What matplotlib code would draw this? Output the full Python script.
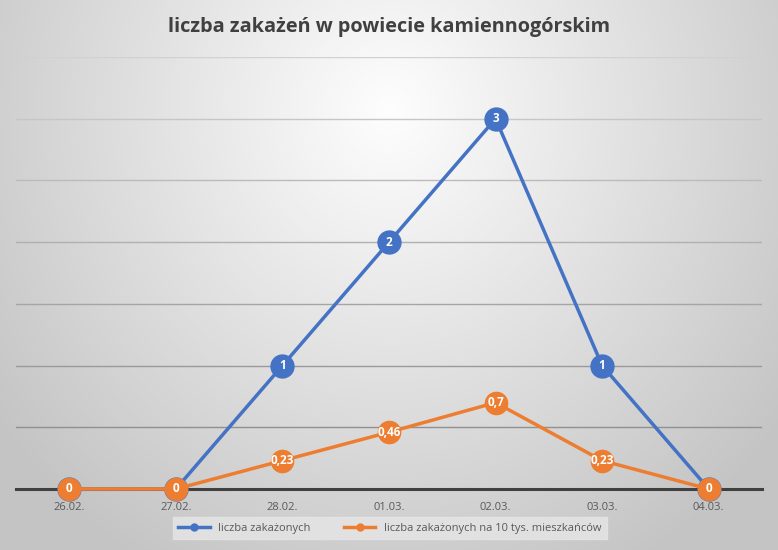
import numpy as np
import matplotlib
matplotlib.use("Agg")
import matplotlib.pyplot as plt
from matplotlib.lines import Line2D

categories = ["26.02.", "27.02.", "28.02.", "01.03.", "02.03.", "03.03.", "04.03."]
cases = [0, 0, 1, 2, 3, 1, 0]
per10k = [0, 0, 0.23, 0.46, 0.7, 0.23, 0]
per10k_labels = ["0", "0", "0,23", "0,46", "0,7", "0,23", "0"]
title = "liczba zakażeń w powiecie kamiennogórskim"
legend_labels = ["liczba zakażonych", "liczba zakażonych na 10 tys. mieszkańców"]

BLUE = "#4472C4"
ORANGE = "#ED7D31"

plt.rcParams['font.family'] = ['Open Sans', 'DejaVu Sans']

fig = plt.figure(figsize=(7.78, 5.5), dpi=100)

# radial gradient background
bg = fig.add_axes([0, 0, 1, 1], zorder=-10)
yy, xx = np.mgrid[0:550, 0:778]
d = np.sqrt(((xx - 389) / 520.0) ** 2 + ((yy - 110) / 560.0) ** 2)
v = np.clip(0.995 - 0.24 * d, 0.77, 1.0)
img = np.dstack([v, v, v])
bg.imshow(img, extent=[0, 1, 0, 1], aspect='auto', origin='upper')
bg.axis('off')

ax = fig.add_axes([16 / 778, 1 - 489 / 550, (762 - 16) / 778, (489 - 57) / 550])
ax.patch.set_alpha(0)
x = np.arange(len(categories))
ax.set_xlim(-0.5, len(categories) - 0.5)
ax.set_ylim(0, 3.5)
grid_levels = np.arange(0.5, 3.51, 0.5)
ax.set_yticks(grid_levels)
for g in grid_levels:
    c = 0.52 + 0.30 * (g / 3.5)
    ax.axhline(g, color=(c, c, c), linewidth=1.0, zorder=1)
for s in ['top', 'right', 'left']:
    ax.spines[s].set_visible(False)
ax.spines['bottom'].set_color('#404040')
ax.spines['bottom'].set_linewidth(2.2)
ax.tick_params(axis='y', left=False, labelleft=False)
ax.tick_params(axis='x', bottom=False, labelsize=8, labelcolor='#595959', pad=6)
ax.set_xticks(x)
ax.set_xticklabels(categories)

ax.plot(x, cases, color=BLUE, lw=2.5, marker='o', ms=16.5, mfc=BLUE, mec=BLUE,
        clip_on=False, zorder=3)
ax.plot(x, per10k, color=ORANGE, lw=2.5, marker='o', ms=16, mfc=ORANGE, mec=ORANGE,
        clip_on=False, zorder=4)
for xi, yi in zip(x, cases):
    if yi > 0:
        ax.text(xi, yi, str(yi), color='white', fontsize=8.5, fontweight='bold',
                ha='center', va='center', zorder=5)
for xi, yi, lab in zip(x, per10k, per10k_labels):
    ax.text(xi, yi, lab, color='white', fontsize=8.5, fontweight='bold',
            ha='center', va='center', zorder=6)

fig.text(0.5, 1 - 27 / 550, title, ha='center', va='center', fontsize=14.3,
         fontweight='bold', color='#404040', family=['Open Sans', 'DejaVu Sans'])

handles = [Line2D([0], [0], color=BLUE, lw=2.5, marker='o', ms=5),
           Line2D([0], [0], color=ORANGE, lw=2.5, marker='o', ms=5)]
leg = fig.legend(handles, legend_labels, loc='center', bbox_to_anchor=(390 / 778, 1 - 528 / 550),
                 ncol=2, frameon=True, fontsize=8, handlelength=2.8, columnspacing=3,
                 borderpad=0.5, fancybox=False)
leg.get_frame().set_facecolor('#e6e6e6')
leg.get_frame().set_edgecolor('#e6e6e6')
for t in leg.get_texts():
    t.set_color('#595959')

fig.savefig("out.png", dpi=100)
